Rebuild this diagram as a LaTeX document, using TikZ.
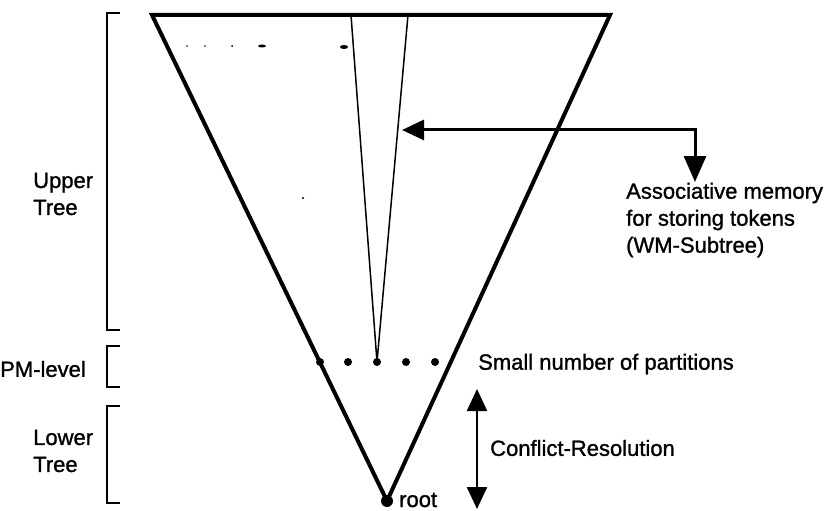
\documentclass[tikz,border=0pt]{standalone}
\usepackage{fontspec}
\setmainfont{Liberation Sans}[FakeBold=1.2]
\usetikzlibrary{arrows.meta}
\begin{document}
\begin{tikzpicture}[x=1pt,y=-1pt,
  lbl/.style={font=\fontsize{22}{27}\selectfont, inner sep=0pt, anchor=west, align=left},
  bracket/.style={line width=2pt},
  part/.style={circle, fill=black, inner sep=0pt, minimum size=8pt},
  speck/.style={fill=black}]
\useasboundingbox (0,0) rectangle (831,511);

% outer tree
\coordinate (tl) at (152,15);
\coordinate (tr) at (610,15);
\node[circle, fill=black, inner sep=0pt, minimum size=12pt] (root) at (387,501) {};
\draw[line width=4pt, line join=miter] (tl) -- (tr) -- (root.center) -- cycle;

% partitions at the PM level
\node[part] (p1) at (320,362) {};
\node[part] (p2) at (348,362) {};
\node[part] (p3) at (377,362) {};
\node[part] (p4) at (406,362) {};
\node[part] (p5) at (435,362) {};

% working-memory subtree
\coordinate (wl) at (351,15);
\coordinate (wr) at (408,15);
\draw[line width=1.5pt] (wl) -- (p3.center) -- (wr);

% stray marks along the top
\fill[speck] (262,46) ellipse (4pt and 1.5pt);
\fill[speck] (344,47) ellipse (4pt and 2pt);
\fill[speck] (187,46) circle (0.8pt);
\fill[speck] (205,46) circle (0.8pt);
\fill[speck] (232,46) circle (1pt);
\fill[speck] (303,198) circle (1.2pt);

% arrow to the subtree and its label
\coordinate (wmtip) at (402,130);
\coordinate (bend) at (695,130);
\coordinate (amtip) at (695,182);
\draw[line width=3pt, {Triangle[length=22pt,width=20pt]}-{Triangle[length=26pt,width=22pt]}] (wmtip) -- (bend) -- (amtip);
\node[lbl] (am) at (626,220) {Associative memory\\for storing tokens\\(WM-Subtree)};

% partitions label
\node[lbl] (pm) at (478,364) {Small number of partitions};

% conflict resolution span
\coordinate (crtop) at (477,389);
\coordinate (crbot) at (477,509);
\draw[line width=2.5pt, {Triangle[length=22pt,width=20pt]}-{Triangle[length=22pt,width=20pt]}] (crtop) -- (crbot);
\node[lbl] (cr) at (490,448) {Conflict-Resolution};

\node[lbl] (rt) at (399,500) {root};

% level brackets
\draw[bracket] (120,13) -- (107,13) -- (107,330) -- (120,330);
\draw[bracket] (120,346) -- (107,346) -- (107,387) -- (120,387);
\draw[bracket] (120,406) -- (107,406) -- (107,503) -- (120,503);
\node[lbl] (ut) at (33,194) {Upper\\Tree};
\node[lbl] (pl) at (0,369) {PM-level};
\node[lbl] (lt) at (33,451) {Lower\\Tree};
\end{tikzpicture}
\end{document}
